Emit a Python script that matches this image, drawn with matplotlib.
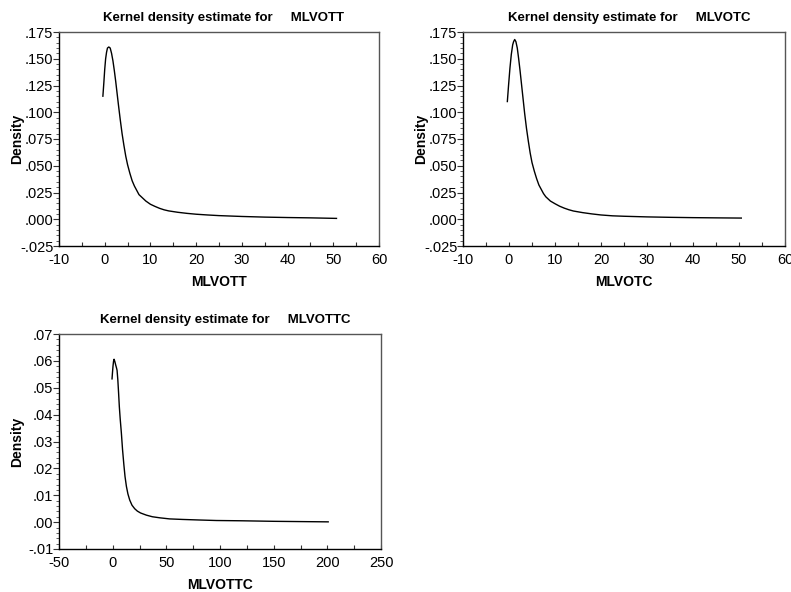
import matplotlib
matplotlib.use("Agg")
import matplotlib.pyplot as plt
from matplotlib.ticker import MultipleLocator, FuncFormatter

plt.rcParams['font.family'] = ['Liberation Sans', 'DejaVu Sans']
plt.rcParams['axes.unicode_minus'] = False

# Kernel density estimates (evaluation points and densities)
mlvott_x = [-0.4, -0.2, 0.0, 0.2, 0.4, 0.6, 0.9, 1.2, 1.5, 1.8, 2.1, 2.4,
            2.7, 3.0, 3.4, 3.8, 4.2, 4.6, 5.0, 5.5, 6.0, 6.5, 7.0, 7.5, 8.0,
            9.0, 10.0, 11.0, 12.0, 13.0, 14.0, 16.0, 18.0, 20.0, 22.5, 25.0,
            30.0, 35.0, 40.0, 45.0, 50.7]
mlvott_y = [0.115, 0.127, 0.140, 0.150, 0.156, 0.160, 0.161, 0.160, 0.155,
            0.148, 0.139, 0.129, 0.118, 0.107, 0.093, 0.080, 0.069, 0.059,
            0.051, 0.043, 0.036, 0.031, 0.027, 0.023, 0.021, 0.017, 0.0140,
            0.0120, 0.0102, 0.0088, 0.0078, 0.0065, 0.0055, 0.0047, 0.0040,
            0.0034, 0.0026, 0.0020, 0.0016, 0.0013, 0.0008]

mlvotc_x = [-0.36, -0.1, 0.2, 0.5, 0.8, 1.0, 1.24, 1.5, 1.8, 2.1, 2.4, 2.7,
            3.0, 3.4, 3.8, 4.2, 4.6, 5.0, 5.5, 6.0, 6.5, 7.0, 7.5, 8.0, 9.0,
            10.0, 11.0, 12.0, 13.0, 14.0, 16.0, 18.0, 20.0, 22.5, 25.0, 30.0,
            35.0, 40.0, 45.0, 50.5]
mlvotc_y = [0.110, 0.125, 0.141, 0.154, 0.163, 0.166, 0.168, 0.166, 0.160,
            0.150, 0.139, 0.127, 0.115, 0.099, 0.085, 0.073, 0.062, 0.053,
            0.045, 0.038, 0.032, 0.028, 0.024, 0.021, 0.017, 0.0145, 0.0122,
            0.0104, 0.0089, 0.0077, 0.0062, 0.0050, 0.0040, 0.0032, 0.0028,
            0.0022, 0.0018, 0.0015, 0.0013, 0.0011]

mlvottc_x = [-0.6, -0.2, 0.3, 0.8, 1.3, 2.0, 2.8, 3.5, 4.1, 4.8, 5.5, 6.2,
             7.0, 8.1, 9.2, 10.4, 11.5, 12.8, 14.2, 15.9, 18.0, 20.5, 23.0,
             26.0, 31.4, 37.0, 44.0, 53.0, 65.0, 80.0, 96.7, 120.0, 150.0,
             175.0, 200.8]
mlvottc_y = [0.0533, 0.0555, 0.0580, 0.0598, 0.0606, 0.0598, 0.0585, 0.0575,
             0.0565, 0.0530, 0.0482, 0.0430, 0.0385, 0.0332, 0.0270, 0.0215,
             0.0170, 0.0133, 0.0105, 0.0082, 0.0063, 0.0050, 0.0041, 0.0034,
             0.0026, 0.0020, 0.0016, 0.0012, 0.0010, 0.0008, 0.0006, 0.0005,
             0.0003, 0.0002, 0.0001]

panels = [
    dict(name='MLVOTT', x=mlvott_x, y=mlvott_y,
         xlim=(-10, 60), xmajor=10, xminor=5,
         ylim=(-0.025, 0.175), ymajor=0.025, yminor=0.005, ydigits=3,
         rect=[59 / 791, 1 - 246 / 592, 320 / 791, 214 / 592]),
    dict(name='MLVOTC', x=mlvotc_x, y=mlvotc_y,
         xlim=(-10, 60), xmajor=10, xminor=5,
         ylim=(-0.025, 0.175), ymajor=0.025, yminor=0.005, ydigits=3,
         rect=[463 / 791, 1 - 246 / 592, 322 / 791, 214 / 592]),
    dict(name='MLVOTTC', x=mlvottc_x, y=mlvottc_y,
         xlim=(-50, 250), xmajor=50, xminor=25,
         ylim=(-0.01, 0.07), ymajor=0.01, yminor=0.002, ydigits=2,
         rect=[59 / 791, 1 - 549 / 592, 322 / 791, 215 / 592]),
]


def stata_fmt(digits):
    def f(v, pos):
        s = f"{v:.{digits}f}"
        if s.startswith('-0.'):
            s = '-' + s[2:]
        elif s.startswith('0.'):
            s = s[1:]
        return s
    return f


fig = plt.figure(figsize=(7.91, 5.92), dpi=100)

for p in panels:
    ax = fig.add_axes(p['rect'])
    ax.plot(p['x'], p['y'], color='black', linewidth=1.0)
    ax.set_xlim(*p['xlim'])
    ax.set_ylim(*p['ylim'])
    ax.xaxis.set_major_locator(MultipleLocator(p['xmajor']))
    ax.xaxis.set_minor_locator(MultipleLocator(p['xminor']))
    ax.yaxis.set_major_locator(MultipleLocator(p['ymajor']))
    ax.yaxis.set_minor_locator(MultipleLocator(p['yminor']))
    ax.yaxis.set_major_formatter(FuncFormatter(stata_fmt(p['ydigits'])))

    ax.tick_params(axis='y', which='major', direction='out', length=4,
                   width=0.8, labelsize=10.5, pad=0, color='#333333')
    ax.tick_params(axis='y', which='minor', direction='out', length=2,
                   width=0.6, color='#444444')
    ax.tick_params(axis='x', which='both', direction='in', length=3,
                   width=0.8, labelsize=10.5, pad=5, color='#333333')

    for side in ('left', 'bottom'):
        ax.spines[side].set_color('black')
        ax.spines[side].set_linewidth(1.0)
    for side in ('top', 'right'):
        ax.spines[side].set_color('#555555')
        ax.spines[side].set_linewidth(1.0)

    ax.set_title('Kernel density estimate for     ' + p['name'],
                 fontsize=9.5, fontweight='bold', pad=8, x=0.515)
    ax.set_xlabel(p['name'], fontsize=10, fontweight='bold', labelpad=6)
    ax.set_ylabel('Density', fontsize=10, fontweight='bold')
    ax.yaxis.set_label_coords(-0.108, 0.5)

fig.savefig('out.png', dpi=100, facecolor='white')
